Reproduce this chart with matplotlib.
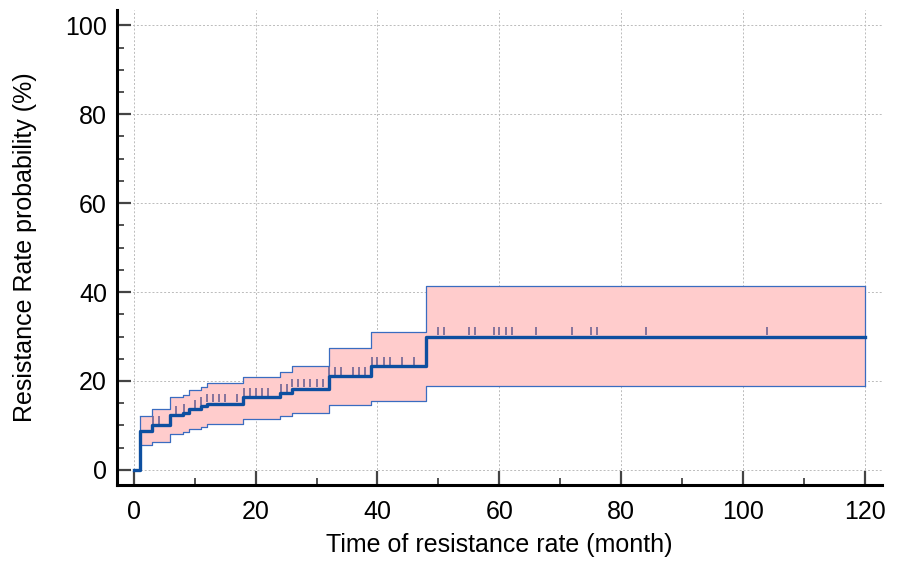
import matplotlib
matplotlib.use("Agg")
import matplotlib.pyplot as plt
import numpy as np

plt.rcParams['font.family'] = ['Liberation Sans', 'DejaVu Sans']

# step times (months) and estimates (%)
times = [0, 1, 3, 6, 8, 9, 11, 12, 18, 24, 26, 32, 39, 48, 120]
surv = [0, 8.8, 10.0, 12.3, 12.7, 13.6, 14.4, 14.9, 16.3, 17.2, 18.3, 21.1, 23.3, 30.0, 30.0]
ci_times = [1, 3, 6, 8, 9, 11, 12, 18, 24, 26, 32, 39, 48, 120]
upper = [12.2, 13.7, 16.3, 16.8, 18.0, 18.7, 19.5, 21.0, 22.1, 23.3, 27.5, 31.0, 41.3, 41.3]
lower = [5.5, 6.2, 8.0, 8.5, 9.2, 9.7, 10.3, 11.5, 12.1, 12.7, 14.7, 15.6, 18.9, 18.9]
censor = [3.2, 4.2, 7.0, 8.2, 10.0, 11.0, 12.0, 13.0, 14.0, 15.0, 17.0,
          18.1, 19.0, 20.0, 21.0, 22.0, 24.1, 25.1, 26.0, 27.0, 28.0, 29.0, 30.0, 31.0,
          32.0, 33.1, 34.0, 36.0, 37.0, 38.0, 39.1, 40.0, 41.0, 42.0, 44.1, 46.0,
          50.0, 50.9, 55.0, 56.0, 59.1, 60.0, 61.1, 62.1, 66.0, 72.0, 75.0, 76.0, 84.1, 104.0]

xticks = [0, 20, 40, 60, 80, 100, 120]
yticks = [0, 20, 40, 60, 80, 100]

fig = plt.figure(figsize=(8.98, 5.64), dpi=100)
ax = fig.add_axes([0.130, 0.140, 0.852, 0.842])

line_c = '#0d4fa0'
edge_c = '#3a6cc0'

ax.fill_between(ci_times, lower, upper, step='post', color='#ffcccc', linewidth=0, zorder=2)
ax.step(ci_times, upper, where='post', color=edge_c, lw=0.9, zorder=3)
ax.step(ci_times, lower, where='post', color=edge_c, lw=0.9, zorder=3)
ax.vlines([ci_times[0]], lower[0], upper[0], color=edge_c, lw=0.9, zorder=3)
ax.vlines([ci_times[-1]], lower[-1], upper[-1], color=edge_c, lw=0.9, zorder=3)

ax.step(times, surv, where='post', color=line_c, lw=2.4, zorder=5)

# censor marks
idx = np.searchsorted(times, censor, side='right') - 1
lev = np.array(surv)[idx]
ax.vlines(censor, lev + 0.3, lev + 2.1, color='#6f6494', lw=1.2, zorder=4)

ax.set_xlim(-2.8, 122.8)
ax.set_ylim(-3.4, 103.4)
ax.set_xticks(xticks)
ax.set_yticks(yticks)
ax.set_xticks(np.arange(10, 120, 20), minor=True)
ax.set_yticks(np.arange(5, 100, 5), minor=True)

for s in ['top', 'right']:
    ax.spines[s].set_visible(False)
for s in ['left', 'bottom']:
    ax.spines[s].set_linewidth(2.2)
    ax.spines[s].set_color('black')

ax.tick_params(axis='both', which='major', direction='in', length=10, width=1.6,
               color='#444444', labelsize=18)
ax.tick_params(axis='both', which='minor', direction='in', length=5, width=1.3,
               color='#444444')
ax.tick_params(axis='x', which='major', pad=11)
ax.tick_params(axis='y', which='major', pad=7)

ax.grid(True, which='major', color='#bbbbbb', linestyle=(0, (2, 2)), linewidth=0.7, zorder=0)
ax.set_axisbelow(True)

ax.set_xlabel('Time of resistance rate (month)', fontsize=18, labelpad=6)
ax.set_ylabel('Resistance Rate probability (%)', fontsize=18, labelpad=20)

fig.savefig('out.png', dpi=100)
